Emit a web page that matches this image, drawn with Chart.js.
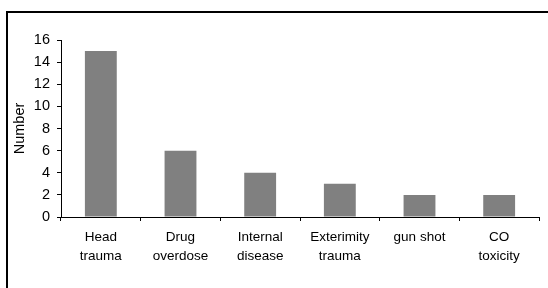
<!DOCTYPE html>
<html lang="en">
<head>
    <meta charset="UTF-8">
    <script src="https://cdn.jsdelivr.net/npm/chart.js"></script>
    <title>Cause of death</title>
    <style>
        body {
            margin: 0;
            padding: 0;
            background: #fff;
            overflow: hidden;
        }
        .frame {
            position: absolute;
            left: 6px;
            top: 11px;
            width: 600px;
            height: 400px;
            border-left: 2px solid #000;
            border-top: 2px solid #000;
        }
        #chart {
            position: absolute;
            left: 0;
            top: 0;
        }
    </style>
</head>
<body>
    <div class="frame"></div>
    <canvas id="chart" width="548" height="288"></canvas>
    <script>
        const categories = [
            ['Head', 'trauma'],
            ['Drug', 'overdose'],
            ['Internal', 'disease'],
            ['Exterimity', 'trauma'],
            'gun shot',
            ['CO', 'toxicity']
        ];
        const counts = [15, 6, 4, 3, 2, 2];
        const yTicks = [0, 2, 4, 6, 8, 10, 12, 14, 16];

        const family = 'Arial, "Liberation Sans", sans-serif';

        new Chart(document.getElementById('chart'), {
            type: 'bar',
            data: {
                labels: categories,
                datasets: [{
                    data: counts,
                    backgroundColor: '#808080',
                    barPercentage: 0.4,
                    categoryPercentage: 1
                }]
            },
            options: {
                responsive: false,
                animation: false,
                layout: { padding: { top: 40, right: 9, bottom: 0, left: 0 } },
                plugins: { legend: { display: false }, tooltip: { enabled: false } },
                scales: {
                    x: {
                        grid: { drawOnChartArea: false, tickLength: 4, color: '#000', offset: true },
                        border: { color: '#000', width: 1 },
                        ticks: { color: '#000', font: { family: family, size: 13.5, lineHeight: 1.45 }, maxRotation: 0, autoSkip: false, padding: 6 },
                        afterFit: s => { s.height = 71; }
                    },
                    y: {
                        min: 0,
                        max: 16,
                        afterBuildTicks: s => { s.ticks = yTicks.map(v => ({ value: v })); },
                        grid: { drawOnChartArea: false, tickLength: 4, color: '#000' },
                        border: { color: '#000', width: 1 },
                        ticks: { color: '#000', font: { family: family, size: 14.5 }, padding: 7 },
                        title: { display: true, text: 'Number', color: '#000', font: { family: family, size: 14.5 }, padding: { top: 11, bottom: 0 } },
                        afterFit: s => { s.width = 61; }
                    }
                }
            }
        });
    </script>
</body>
</html>
